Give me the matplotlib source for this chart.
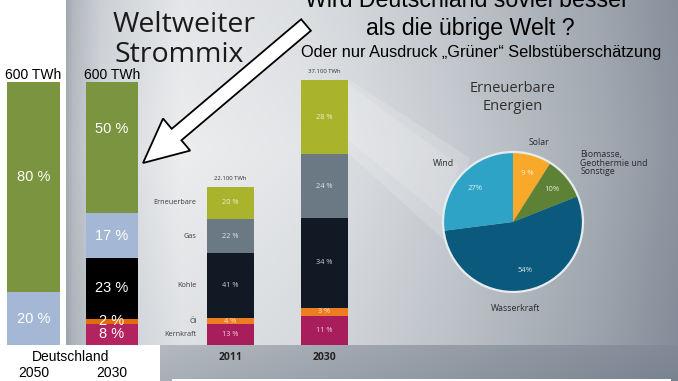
import matplotlib
matplotlib.use('Agg')
import matplotlib.pyplot as plt
import numpy as np
from matplotlib.patches import FancyArrow, Polygon, Circle

# Daten
sources = ['Kernkraft', 'Öl', 'Kohle', 'Gas', 'Erneuerbare']

de_labels = ['2050', '2030']
de_total = ['600 TWh', '600 TWh']
de_2050 = [0, 0, 0, 20, 80]
de_2030 = [8, 2, 23, 17, 50]

world_years = ['2011', '2030']
world_total = [22100, 37100]
world_2011 = [13, 4, 41, 22, 20]
world_2030 = [11, 3, 34, 24, 28]

pie_names = ['Solar', 'Biomasse,\nGeothermie und\nSonstige', 'Wasserkraft', 'Wind']
pie_values = [9, 10, 54, 27]
pie_texts = ['9 %', '10%', '54%', '27%']

de_colors = ['#b3235f', '#e36c09', '#000000', '#a4b7d4', '#7b943f']
world_colors = ['#a81e5c', '#ee7d1f', '#101924', '#6b7985', '#a9b42c']
pie_colors = ['#f8a92a', '#5d8236', '#0b5a7e', '#2fa3c6']

ARIAL = 'Liberation Sans'
SLIDE = 'Open Sans'

W, H = 678, 381
fig = plt.figure(figsize=(W / 100, H / 100), dpi=100)
fig.patch.set_facecolor('white')

# Hintergrund (Pixelkoordinaten)
bg = fig.add_axes([0, 0, 1, 1])
bg.axis('off')


def tint(b):
    return np.dstack([b - 0.08 * (1 - b), b, b + 0.1 * (1 - b)]).clip(0, 1)


xs = np.linspace(66, 678, 306)
ys = np.linspace(0, 345, 60)
bx = np.interp(xs, [66, 72, 100, 180, 300, 450, 600, 678],
               [0.68, 0.74, 0.84, 0.93, 0.90, 0.80, 0.67, 0.58])
by = np.interp(ys, [0, 150, 345], [0.97, 1.0, 0.95])
bg.imshow(tint(np.outer(by, bx)), extent=(66, 678, 345, 0), aspect='auto',
          interpolation='bilinear', zorder=0)

xb = np.linspace(160, 678, 200)
band = np.interp(xb, [160, 678], [0.71, 0.53])
bandy = np.interp(np.linspace(345, 381, 10), [345, 381], [1.02, 0.97])
bg.imshow(tint(np.outer(bandy, band)), extent=(160, 678, 381, 345),
          aspect='auto', interpolation='bilinear', zorder=0)
bg.add_patch(Polygon([(172, 379), (671, 379), (671, 382), (172, 382)],
                     closed=True, fc='white', ec='none', zorder=1))
bg.set_xlim(0, W)
bg.set_ylim(H, 0)

# Lichtkegel zur Torte
bg.add_patch(Polygon([(348, 79), (470, 158), (444, 240), (348, 153)],
                     closed=True, fc='white', ec='none', alpha=0.16, zorder=1))
bg.add_patch(Polygon([(348, 84), (458, 165), (448, 222), (348, 140)],
                     closed=True, fc='white', ec='none', alpha=0.14, zorder=1))

# Titel
bg.text(467, 7, 'Wird Deutschland soviel besser', fontsize=16.7,
        family=ARIAL, ha='center', va='baseline', zorder=5)
bg.text(470, 35, 'als die übrige Welt ?', fontsize=16.7,
        family=ARIAL, ha='center', va='baseline', zorder=5)
bg.text(481, 57, 'Oder nur Ausdruck „Grüner“ Selbstüberschätzung', fontsize=11.8,
        family=ARIAL, ha='center', va='baseline', zorder=5)
bg.text(113, 32, 'Weltweiter', fontsize=20.5, family=SLIDE, color='#1a1a1a',
        ha='left', va='baseline', zorder=5)
bg.text(115, 62, 'Strommix', fontsize=20.5, family=SLIDE, color='#1a1a1a',
        ha='left', va='baseline', zorder=5)
bg.text(513, 88, 'Erneuerbare', fontsize=10.5, family=SLIDE, color='#303030',
        ha='center', va='center', zorder=5)
bg.text(513, 106, 'Energien', fontsize=10.5, family=SLIDE, color='#303030',
        ha='center', va='center', zorder=5)
bg.text(70.5, 357, 'Deutschland', fontsize=10, family=ARIAL,
        ha='center', va='center', zorder=5)

# Deutschland-Balken (Prozent)
de_ax = fig.add_axes([0, (H - 345) / H, 160 / W, 263 / H])
de_ax.set_xlim(-33.5 / 78.5, (160 - 33.5) / 78.5)
de_ax.set_ylim(0, 100)
de_ax.axis('off')
de_ax.patch.set_alpha(0)
label_override = {(0, 4): 64, (1, 4): 82}
for i, stack in enumerate([de_2050, de_2030]):
    bottom = 0
    for k, v in enumerate(stack):
        if v == 0:
            continue
        de_ax.bar(i, v, bottom=bottom, width=0.675, color=de_colors[k])
        yl = label_override.get((i, k), bottom + v / 2)
        de_ax.text(i, yl, f'{v} %', color='white', fontsize=10.5, family=ARIAL,
                   ha='center', va='center')
        bottom += v
    de_ax.annotate(de_total[i], (i, 100), xytext=(0, 5), textcoords='offset points',
                   ha='center', va='center', fontsize=10, family=ARIAL,
                   annotation_clip=False)
    de_ax.annotate(de_labels[i], (i, 0), xytext=(0, -20.5), textcoords='offset points',
                   ha='center', va='center', fontsize=10, family=ARIAL,
                   annotation_clip=False)

# Welt-Balken (TWh)
scale = 0.00714
wx0 = 230.5
w_ax = fig.add_axes([160 / W, (H - 345) / H, 240 / W, 345 / H])
w_ax.set_xlim((160 - wx0) / 94, (400 - wx0) / 94)
w_ax.set_ylim(0, 345 / scale)
w_ax.axis('off')
w_ax.patch.set_alpha(0)
for i, shares in enumerate([world_2011, world_2030]):
    bottom = 0
    for k, s in enumerate(shares):
        v = s * world_total[i] / 100
        w_ax.bar(i, v, bottom=bottom, width=0.5, color=world_colors[k])
        w_ax.text(i, bottom + v / 2, f'{s} %', color='white', alpha=0.8,
                  fontsize=5.3, family=SLIDE, ha='center', va='center')
        if i == 0:
            w_ax.text(-0.36, bottom + v / 2, sources[k], color='#3c3c3c',
                      fontsize=5.2, family=SLIDE, ha='right', va='center')
        bottom += v
    w_ax.annotate(f'{world_total[i]:,} TWh'.replace(',', '.'), (i, world_total[i]),
                  xytext=(0, 6.5), textcoords='offset points', ha='center',
                  va='center', fontsize=4.3, family=SLIDE, color='#333333',
                  annotation_clip=False)
    w_ax.annotate(world_years[i], (i, 0), xytext=(0, -8.8), textcoords='offset points',
                  ha='center', va='center', fontsize=7.5, family=SLIDE,
                  fontweight='bold', color='#222222', annotation_clip=False)

# Torte
p_ax = fig.add_axes([440 / W, (H - 295) / H, 146 / W, 146 / H])
wedges, _ = p_ax.pie(pie_values, colors=pie_colors, startangle=90,
                     counterclock=False, radius=1,
                     wedgeprops=dict(linewidth=0))
p_ax.add_patch(Circle((0, 0), 1, fc='none', ec='#e6ecee', lw=1.6))
p_ax.set_xlim(-1.043, 1.043)
p_ax.set_ylim(-1.043, 1.043)
p_ax.axis('off')
for w, t in zip(wedges, pie_texts):
    ang = np.deg2rad((w.theta1 + w.theta2) / 2)
    p_ax.text(0.72 * np.cos(ang), 0.72 * np.sin(ang), t, color='white', alpha=0.85,
              fontsize=5.5, family=SLIDE, ha='center', va='center')
name_pos = [(0.37, 1.13, 'center'), (0.96, 0.84, 'left'),
            (0.03, -1.23, 'center'), (-0.99, 0.83, 'center')]
for (px, py, ha), name in zip(name_pos, pie_names):
    p_ax.text(px, py, name, fontsize=6.3, family=SLIDE, color='#2a2a2a',
              ha=ha, va='center', linespacing=0.95, clip_on=False)

# Pfeil
ov = fig.add_axes([0, 0, 1, 1])
ov.set_xlim(0, W)
ov.set_ylim(H, 0)
ov.axis('off')
ov.patch.set_alpha(0)
ov.add_patch(FancyArrow(306, 25, 143 - 306, 163 - 25, width=15, head_width=42,
                        head_length=44, length_includes_head=True,
                        fc='white', ec='black', lw=1.3))

fig.savefig('out.png', dpi=100)
